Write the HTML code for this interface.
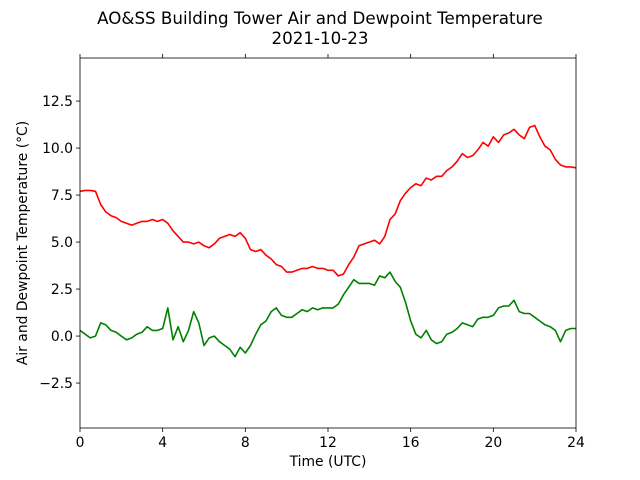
<!DOCTYPE html>
<html><head><meta charset="utf-8"><style>
html,body{margin:0;padding:0;background:#fff;}
svg{display:block;font-family:"DejaVu Sans","Liberation Sans",sans-serif;}
</style></head><body>
<svg id="chart" width="640" height="480" viewBox="0 0 640 480">
<rect width="640" height="480" fill="#fff"/>
<text x="320" y="24" text-anchor="middle" font-size="16.7">AO&amp;SS Building Tower Air and Dewpoint Temperature</text>
<text x="320" y="44" text-anchor="middle" font-size="16.7">2021-10-23</text>
<g id="plot"></g>
<text x="328" y="466" text-anchor="middle" font-size="13.9">Time (UTC)</text>
<text transform="translate(27,243) rotate(-90)" text-anchor="middle" font-size="13.9">Air and Dewpoint Temperature (°C)</text>
</svg>
<script>
const xTicks = [0,4,8,12,16,20,24];
const yTicks = [-2.5,0.0,2.5,5.0,7.5,10.0,12.5];
const yTickLabels = ["−2.5","0.0","2.5","5.0","7.5","10.0","12.5"];
const hours = [];
for (let i = 0; i <= 96; i++) hours.push(i * 0.25);
const airTemp = [7.7,7.75,7.75,7.7,7.0,6.6,6.4,6.3,6.1,6.0,5.9,6.0,6.1,6.1,6.2,6.1,6.2,6.0,5.6,5.3,5.0,5.0,4.9,5.0,4.8,4.7,4.9,5.2,5.3,5.4,5.3,5.5,5.2,4.6,4.5,4.6,4.3,4.1,3.8,3.7,3.4,3.4,3.5,3.6,3.6,3.7,3.6,3.6,3.5,3.5,3.2,3.3,3.8,4.2,4.8,4.9,5.0,5.1,4.9,5.3,6.2,6.5,7.2,7.6,7.9,8.1,8.0,8.4,8.3,8.5,8.5,8.8,9.0,9.3,9.7,9.5,9.6,9.9,10.3,10.1,10.6,10.3,10.7,10.8,11.0,10.7,10.5,11.1,11.2,10.6,10.1,9.9,9.4,9.1,9.0,9.0,8.95];
const dewTemp = [0.3,0.1,-0.1,0.0,0.7,0.6,0.3,0.2,0.0,-0.2,-0.1,0.1,0.2,0.5,0.3,0.3,0.4,1.5,-0.2,0.5,-0.3,0.3,1.3,0.7,-0.5,-0.1,0.0,-0.3,-0.5,-0.7,-1.1,-0.6,-0.9,-0.5,0.1,0.6,0.8,1.3,1.5,1.1,1.0,1.0,1.2,1.4,1.3,1.5,1.4,1.5,1.5,1.5,1.7,2.2,2.6,3.0,2.8,2.8,2.8,2.7,3.2,3.1,3.4,2.9,2.6,1.8,0.8,0.1,-0.1,0.3,-0.2,-0.4,-0.3,0.1,0.2,0.4,0.7,0.6,0.5,0.9,1.0,1.0,1.1,1.5,1.6,1.6,1.9,1.3,1.2,1.2,1.0,0.8,0.6,0.5,0.3,-0.3,0.3,0.4,0.4];

const L=80,R=576,T=58,B=428, xMin=0,xMax=24, yMin=-4.89,yMax=14.79;
const xs = v => L + (v-xMin)/(xMax-xMin)*(R-L);
const ys = v => B - (v-yMin)/(yMax-yMin)*(B-T);
const NS="http://www.w3.org/2000/svg";
const g=document.getElementById('plot');
function mk(tag,attrs){const e=document.createElementNS(NS,tag);for(const k in attrs)e.setAttribute(k,attrs[k]);g.appendChild(e);return e;}

function series(vals,color,name){
  const d=vals.map((v,i)=>(i?'L':'M')+xs(hours[i]).toFixed(1)+','+ys(v).toFixed(1)).join('');
  const p=mk('path',{d:d,fill:'none',stroke:color,'stroke-width':1.6,'stroke-linejoin':'round'});
  
  
}
series(airTemp,'#ff0000','air-temperature-line');
series(dewTemp,'#008000','dewpoint-temperature-line');

xTicks.forEach(t=>{
  const x=xs(t);
  const a=mk('line',{x1:x,x2:x,y1:B,y2:B+4,stroke:'#000','stroke-width':0.8});
  
  
  const b=mk('line',{x1:x,x2:x,y1:T,y2:T-4,stroke:'#000','stroke-width':0.8});
  
  
  const tx=mk('text',{x:x,y:B+19,'text-anchor':'middle','font-size':13.9});
  tx.textContent=t;
  
  
});
yTicks.forEach((t,i)=>{
  const y=ys(t);
  const a=mk('line',{x1:L-4,x2:L,y1:y,y2:y,stroke:'#000','stroke-width':0.8});
  
  
  const tx=mk('text',{x:L-7,y:y+5,'text-anchor':'end','font-size':13.9});
  tx.textContent=yTickLabels[i];
  
  
});
const frame=mk('rect',{x:L,y:T,width:R-L,height:B-T,fill:'none',stroke:'#000','stroke-width':0.8});


</script>
</body></html>
